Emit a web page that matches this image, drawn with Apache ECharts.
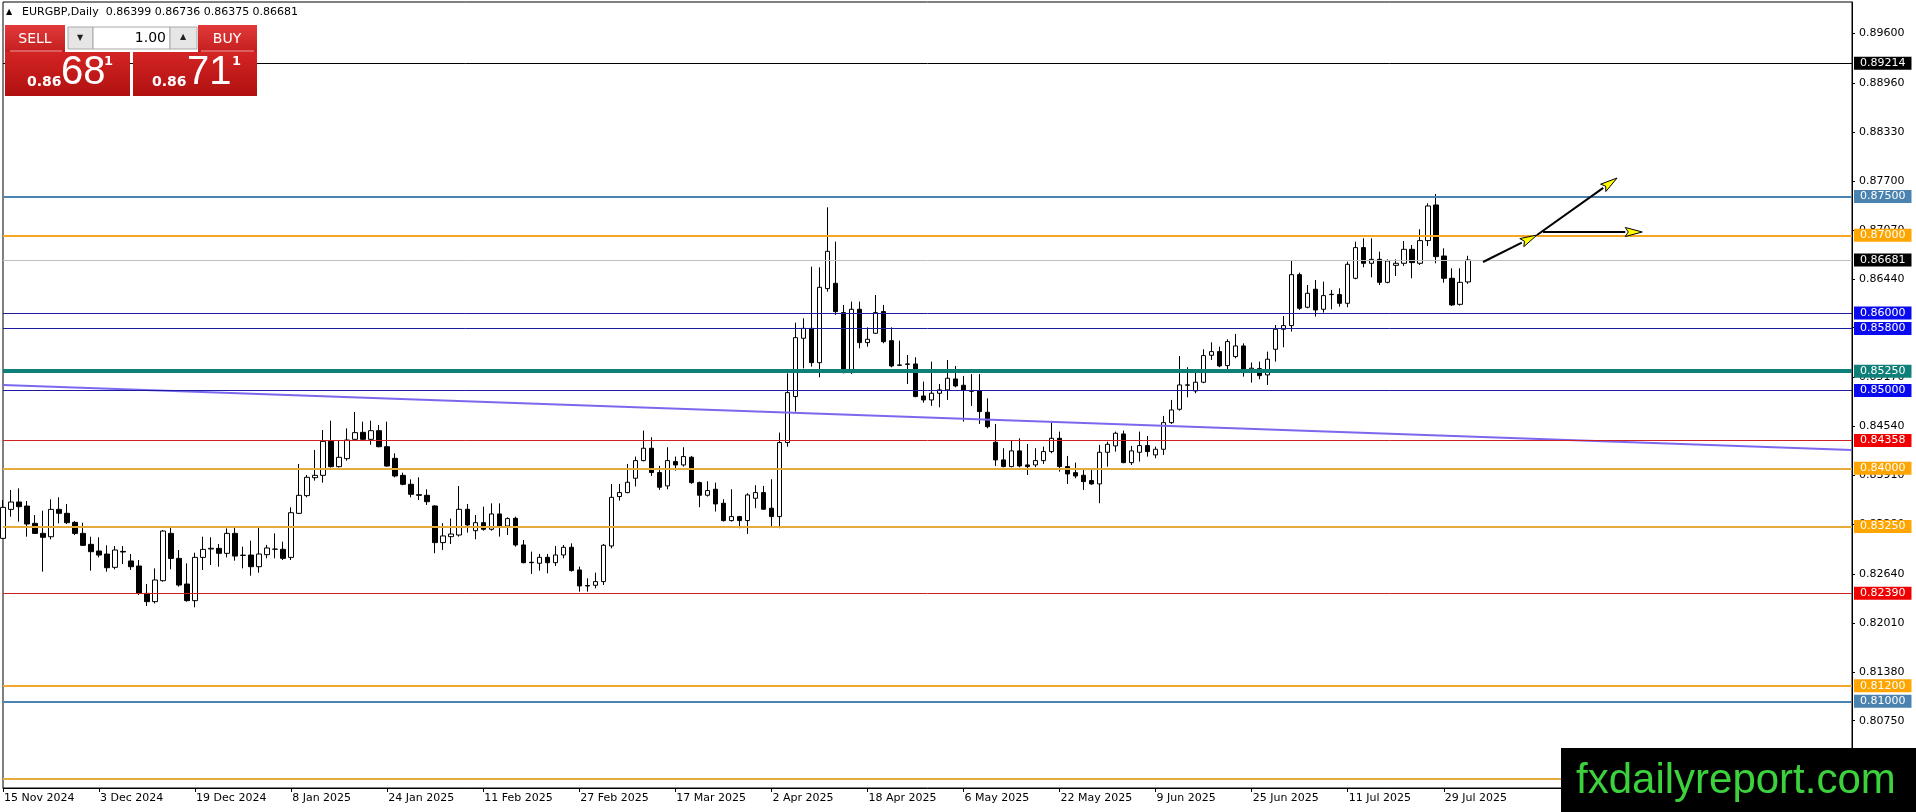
<!DOCTYPE html>
<html>
<head>
<meta charset="utf-8">
<title>EURGBP, Daily</title>
<script src="https://cdn.jsdelivr.net/npm/echarts@6.0.0/dist/echarts.min.js"></script>
<style>
  html, body { margin: 0; padding: 0; background: #fff; }
  #chart { width: 1916px; height: 812px; }
</style>
</head>
<body>
<div id="chart"></div>
<script>
// daily candles, 15 Nov 2024 .. 1 Aug 2025
var openP = [
  0.83098,0.83471,0.83566,0.83514,0.83291,0.83162,0.83119,0.83471,0.83420,0.83304,
  0.83162,0.83021,0.82935,0.82896,0.82725,0.82930,0.82807,0.82742,0.82390,0.82283,
  0.82553,0.83162,0.82840,0.82510,0.82296,0.82853,0.82961,0.82969,0.82905,0.83162,
  0.82878,0.82883,0.82733,0.82888,0.82957,0.82957,0.82853,0.83420,0.83648,0.83879,
  0.83909,0.84347,0.84021,0.84124,0.84373,0.84463,0.84373,0.84484,0.84278,0.84128,
  0.83909,0.83794,0.83660,0.83652,0.83515,0.83043,0.83120,0.83141,0.83472,0.83197,
  0.83300,0.83215,0.83412,0.83257,0.83356,0.83013,0.82790,0.82777,0.82854,0.82785,
  0.82884,0.82983,0.82691,0.82490,0.82494,0.82541,0.83000,0.83636,0.83687,0.83872,
  0.84099,0.84258,0.83945,0.83773,0.84086,0.84043,0.84142,0.83816,0.83653,0.83730,
  0.83550,0.83327,0.83378,0.83327,0.83614,0.83687,0.83486,0.83378,0.84331,0.84923,
  0.85674,0.85802,0.85360,0.86313,0.86381,0.86004,0.85232,0.86047,0.85618,0.85738,
  0.86017,0.85643,0.85330,0.85343,0.85343,0.84931,0.84880,0.84966,0.85009,0.85150,
  0.85069,0.84997,0.84996,0.84721,0.84335,0.84108,0.84022,0.84224,0.84043,0.84043,
  0.84099,0.84215,0.84386,0.84022,0.83944,0.83910,0.83842,0.83799,0.84206,0.84288,
  0.84442,0.84073,0.84206,0.84292,0.84172,0.84245,0.84588,0.84760,0.85070,0.84996,
  0.85108,0.85455,0.85502,0.85322,0.85438,0.85575,0.85258,0.85283,0.85202,0.85532,
  0.85790,0.85837,0.86493,0.86073,0.86305,0.86047,0.86236,0.86236,0.86124,0.86446,
  0.86841,0.86639,0.86690,0.86394,0.86613,0.86639,0.86819,0.86639,0.86931,0.87390,
  0.86733,0.86446,0.86111,0.86399
];
var highP = [
  0.83592,0.83720,0.83742,0.83579,0.83398,0.83454,0.83600,0.83626,0.83540,0.83320,
  0.83300,0.83119,0.83111,0.83008,0.82999,0.82999,0.82896,0.82819,0.82510,0.82712,
  0.83205,0.83248,0.82948,0.82776,0.82913,0.83119,0.83111,0.83025,0.83227,0.83248,
  0.82991,0.83068,0.83248,0.83013,0.83162,0.83055,0.83497,0.84055,0.83914,0.84236,
  0.84493,0.84613,0.84356,0.84514,0.84725,0.84600,0.84613,0.84557,0.84600,0.84193,
  0.83944,0.83858,0.83884,0.83729,0.83525,0.83292,0.83352,0.83772,0.83540,0.83399,
  0.83506,0.83549,0.83549,0.83369,0.83377,0.83077,0.82927,0.82897,0.82897,0.83000,
  0.83013,0.83034,0.82734,0.82584,0.82657,0.83026,0.83798,0.83799,0.84056,0.84151,
  0.84485,0.84400,0.84031,0.84271,0.84151,0.84271,0.84159,0.83829,0.83833,0.83816,
  0.83602,0.83730,0.83387,0.83679,0.83782,0.83773,0.83859,0.84459,0.85223,0.85875,
  0.85931,0.86596,0.86587,0.87360,0.86918,0.86103,0.86146,0.86146,0.85815,0.86231,
  0.86103,0.85815,0.85643,0.85459,0.85429,0.85116,0.85373,0.85085,0.85394,0.85317,
  0.85189,0.85214,0.85214,0.84901,0.84571,0.84258,0.84356,0.84386,0.84313,0.84258,
  0.84279,0.84588,0.84472,0.84159,0.84073,0.83979,0.83987,0.84301,0.84343,0.84472,
  0.84485,0.84288,0.84472,0.84416,0.84279,0.84674,0.84880,0.85446,0.85301,0.85232,
  0.85532,0.85622,0.85566,0.85661,0.85730,0.85609,0.85361,0.85373,0.85502,0.85845,
  0.85961,0.86682,0.86519,0.86360,0.86424,0.86403,0.86296,0.86317,0.86660,0.86918,
  0.86961,0.86961,0.86789,0.86690,0.86690,0.86926,0.86875,0.87077,0.87411,0.87531,
  0.86832,0.86575,0.86575,0.86736
];
var lowP = [
  0.83090,0.83377,0.83313,0.83119,0.83154,0.82669,0.83085,0.83291,0.83283,0.83141,
  0.82999,0.82682,0.82853,0.82669,0.82699,0.82768,0.82690,0.82369,0.82227,0.82261,
  0.82540,0.82699,0.82476,0.82283,0.82210,0.82690,0.82755,0.82733,0.82853,0.82810,
  0.82712,0.82617,0.82656,0.82841,0.82841,0.82819,0.82819,0.83412,0.83626,0.83841,
  0.83815,0.84010,0.84010,0.84098,0.84360,0.84356,0.84304,0.84270,0.84021,0.83884,
  0.83781,0.83626,0.83592,0.83528,0.82906,0.82949,0.83026,0.83120,0.83172,0.83086,
  0.83197,0.83197,0.83120,0.83141,0.82991,0.82777,0.82640,0.82683,0.82648,0.82743,
  0.82841,0.82670,0.82412,0.82412,0.82455,0.82498,0.82970,0.83584,0.83679,0.83765,
  0.84090,0.83902,0.83722,0.83730,0.83970,0.84022,0.83799,0.83499,0.83636,0.83443,
  0.83314,0.83314,0.83228,0.83155,0.83486,0.83464,0.83241,0.83228,0.84279,0.84730,
  0.85287,0.85309,0.85172,0.86274,0.85974,0.85223,0.85215,0.85545,0.85566,0.85729,
  0.85610,0.85300,0.85317,0.85085,0.84915,0.84845,0.84803,0.84785,0.84880,0.85043,
  0.84601,0.84803,0.84571,0.84515,0.84030,0.84013,0.84013,0.84013,0.83914,0.84015,
  0.84056,0.84193,0.83957,0.83799,0.83871,0.83721,0.83786,0.83550,0.84022,0.84215,
  0.84065,0.84043,0.84086,0.84150,0.84129,0.84172,0.84571,0.84742,0.84914,0.84966,
  0.85095,0.85395,0.85301,0.85258,0.85416,0.85180,0.85103,0.85146,0.85073,0.85373,
  0.85558,0.85760,0.86038,0.86060,0.85953,0.86004,0.86047,0.86081,0.86073,0.86433,
  0.86588,0.86459,0.86360,0.86382,0.86476,0.86605,0.86446,0.86618,0.86862,0.86639,
  0.86390,0.86090,0.86094,0.86375
];
var closeP = [
  0.83497,0.83566,0.83506,0.83283,0.83162,0.83111,0.83471,0.83420,0.83300,0.83162,
  0.83008,0.82926,0.82883,0.82720,0.82948,0.82922,0.82733,0.82390,0.82283,0.82562,
  0.83192,0.82840,0.82497,0.82296,0.82853,0.82956,0.82970,0.82905,0.83162,0.82870,
  0.82882,0.82733,0.82896,0.82974,0.82960,0.82841,0.83428,0.83652,0.83884,0.83909,
  0.84347,0.84021,0.84141,0.84364,0.84459,0.84373,0.84484,0.84278,0.84029,0.83901,
  0.83794,0.83665,0.83652,0.83570,0.83043,0.83129,0.83154,0.83472,0.83270,0.83300,
  0.83215,0.83412,0.83257,0.83352,0.83013,0.82785,0.82785,0.82854,0.82785,0.82884,
  0.82983,0.82683,0.82485,0.82485,0.82541,0.83009,0.83626,0.83687,0.83820,0.84099,
  0.84258,0.83945,0.83756,0.84099,0.84043,0.84151,0.83816,0.83653,0.83713,0.83541,
  0.83327,0.83378,0.83327,0.83657,0.83687,0.83473,0.83378,0.84331,0.84974,0.85682,
  0.85802,0.85360,0.86330,0.86793,0.86017,0.85232,0.86047,0.85618,0.85661,0.86004,
  0.85630,0.85317,0.85326,0.85339,0.84923,0.84880,0.84966,0.85009,0.85159,0.85060,
  0.85009,0.84993,0.84730,0.84536,0.84108,0.84022,0.84224,0.84030,0.84022,0.84099,
  0.84215,0.84386,0.84022,0.83927,0.83901,0.83829,0.83799,0.84206,0.84309,0.84451,
  0.84073,0.84224,0.84292,0.84215,0.84245,0.84588,0.84751,0.85073,0.85074,0.85108,
  0.85451,0.85502,0.85318,0.85631,0.85575,0.85258,0.85288,0.85193,0.85404,0.85790,
  0.85837,0.86493,0.86060,0.86253,0.86038,0.86223,0.86240,0.86124,0.86626,0.86841,
  0.86639,0.86690,0.86394,0.86669,0.86639,0.86819,0.86648,0.86931,0.87377,0.86725,
  0.86446,0.86103,0.86394,0.86681
];

// one label every 12 bars, starting with the first bar
var dateLabels = ['15 Nov 2024','3 Dec 2024','19 Dec 2024','8 Jan 2025','24 Jan 2025',
  '11 Feb 2025','27 Feb 2025','17 Mar 2025','2 Apr 2025','18 Apr 2025','6 May 2025',
  '22 May 2025','9 Jun 2025','25 Jun 2025','11 Jul 2025','29 Jul 2025'];
var labelStep = 12;
var totalSlots = 232;   // bars + empty space to the right

var yTicks = [0.89600,0.88960,0.88330,0.87700,0.87070,0.86440,0.85810,0.85170,
  0.84540,0.83910,0.83280,0.82640,0.82010,0.81380,0.80750];

// horizontal levels
var levelPrices = [0.89214,0.87500,0.87000,0.86681,0.86000,0.85800,0.85250,0.85000,
  0.84358,0.84000,0.83250,0.82390,0.81200,0.81000,0.80000];
var levelLine  = ['#000000','#4A82B0','#F5A623','#C0C0C0','#1C1CA0','#1C1CA0','#0F7F7A','#1C1CA0',
  '#D02020','#E3AC3C','#E3AC3C','#D02020','#F2A72E','#4A82B0','#E3AC3C'];
var levelWidth = [1,2,2,1,1,1,4,1,1,2,2,1,2,2,2];
var levelBox   = ['#000000','#4A82B0','#FFA500','#000000','#0A0AF0','#0A0AF0','#0F7F7A','#0A0AF0',
  '#F00000','#FFA500','#FFA500','#F00000','#FFA500','#4A82B0','#FFA500'];

// trend line and arrows, in [bar index, price]
var trendLine = [[0, 0.85071], [231, 0.84237]];
var arrows = [
  [184.9, 0.86656, 191.65, 0.87003],
  [191.65, 0.87003, 201.65, 0.87737],
  [192.4, 0.87042, 204.8, 0.87042]
];

var font = 'DejaVu Sans';

var candles = openP.map(function (o, i) {
  return [o, closeP[i], lowP[i], highP[i]];
});
var slots = [];
for (var i = 0; i < totalSlots; i++) slots.push(String(i));

var showLabel = function (idx) {
  return idx % labelStep === 0 && idx / labelStep < dateLabels.length;
};

var levelData = levelPrices.map(function (p, i) {
  return {
    yAxis: p,
    lineStyle: { color: levelLine[i], width: levelWidth[i], type: 'solid', opacity: 1 },
    label: {
      show: true, position: 'end', distance: 2,
      formatter: p.toFixed(5),
      color: '#fff', backgroundColor: levelBox[i],
      fontFamily: font, fontSize: 11, lineHeight: 12,
      padding: [1, 6, 0, 6]
    }
  };
});

var myChart = echarts.init(document.getElementById('chart'));

var option = {
  animation: false,
  backgroundColor: '#fff',
  grid: {
    left: 3, right: 64, top: 2, bottom: 24,
    show: true, borderColor: '#000', borderWidth: 1
  },
  xAxis: [{
    type: 'category',
    data: slots,
    boundaryGap: false,
    axisLine: { onZero: false, lineStyle: { color: '#000' } },
    axisTick: { show: true, length: 4, interval: showLabel, lineStyle: { color: '#000' } },
    axisLabel: {
      interval: showLabel,
      formatter: function (v, idx) { return dateLabels[idx / labelStep] || ''; },
      align: 'left', padding: [0, 0, 0, 1], margin: 5,
      color: '#000', fontFamily: font, fontSize: 11
    },
    splitLine: { show: false }
  }, {
    type: 'value', min: 0, max: totalSlots - 1, show: false,
    axisLine: { show: false, onZero: false }, axisTick: { show: false },
    axisLabel: { show: false }, splitLine: { show: false }
  }],
  yAxis: {
    type: 'value',
    position: 'right',
    min: 0.79884, max: 0.90003,
    axisLine: { show: true, onZero: false, lineStyle: { color: '#000' } },
    axisTick: { show: true, inside: false, length: 3, customValues: yTicks, lineStyle: { color: '#000' } },
    axisLabel: {
      customValues: yTicks,
      formatter: function (v) { return v.toFixed(5); },
      color: '#000', fontFamily: font, fontSize: 11, margin: 7
    },
    splitLine: { show: false }
  },
  series: [{
    type: 'candlestick',
    data: candles,
    barWidth: 5,
    itemStyle: {
      color: '#ffffff', color0: '#000000',
      borderColor: '#000000', borderColor0: '#000000', borderWidth: 1
    },
    markLine: {
      silent: true, symbol: ['none', 'none'], precision: 5,
      data: levelData
    }
  }, {
    type: 'line',
    xAxisIndex: 1,
    data: trendLine,
    symbol: 'none',
    lineStyle: { color: '#7B68EE', width: 2 },
    silent: true
  }, {
    type: 'custom',
    xAxisIndex: 1,
    data: arrows,
    encode: { x: [0, 2], y: [1, 3] },
    silent: true,
    z: 5,
    renderItem: function (params, api) {
      var p0 = api.coord([api.value(0), api.value(1)]);
      var p1 = api.coord([api.value(2), api.value(3)]);
      var dx = p1[0] - p0[0], dy = p1[1] - p0[1];
      var len = Math.sqrt(dx * dx + dy * dy);
      var ux = dx / len, uy = dy / len, nx = -uy, ny = ux;
      var hl = 17, hw = 4.5;
      var bx = p1[0] - ux * hl, by = p1[1] - uy * hl;
      return {
        type: 'group',
        children: [{
          type: 'line',
          shape: { x1: p0[0], y1: p0[1], x2: bx, y2: by },
          style: { stroke: '#000', lineWidth: 2 }
        }, {
          type: 'polygon',
          shape: { points: [[p1[0], p1[1]], [bx + nx * hw, by + ny * hw],
            [bx + ux * 3, by + uy * 3], [bx - nx * hw, by - ny * hw]] },
          style: { fill: '#FFFF00', stroke: '#000', lineWidth: 1 }
        }]
      };
    }
  }],
  graphic: [
    // header
    { type: 'text', z: 100, left: 6, top: 8, style: { text: '▲', fill: '#000', font: '8px ' + font } },
    { type: 'text', z: 100, left: 22, top: 7,
      style: { text: 'EURGBP,Daily  0.86399 0.86736 0.86375 0.86681', fill: '#000', font: '11px ' + font } },
    // trade panel
    { type: 'rect', z: 100, shape: { x: 65, y: 25, width: 133, height: 27 }, style: { fill: '#fff' } },
    { type: 'rect', z: 100, shape: { x: 5, y: 25, width: 60, height: 27 },
      style: { fill: new echarts.graphic.LinearGradient(0, 0, 0, 1, [{ offset: 0, color: '#E23A3A' }, { offset: 1, color: '#C41E1E' }]) } },
    { type: 'rect', z: 100, shape: { x: 198, y: 25, width: 59, height: 27 },
      style: { fill: new echarts.graphic.LinearGradient(0, 0, 0, 1, [{ offset: 0, color: '#E23A3A' }, { offset: 1, color: '#C41E1E' }]) } },
    { type: 'line', z: 101, shape: { x1: 10, y1: 51, x2: 62, y2: 51 }, style: { stroke: '#F4A0A0', lineWidth: 1 } },
    { type: 'line', z: 101, shape: { x1: 201, y1: 51, x2: 254, y2: 51 }, style: { stroke: '#F4A0A0', lineWidth: 1 } },
    { type: 'rect', z: 100, shape: { x: 68, y: 27, width: 25, height: 22 }, style: { fill: '#E6E6E6', stroke: '#A8A8A8' } },
    { type: 'rect', z: 100, shape: { x: 93, y: 27, width: 77, height: 22 }, style: { fill: '#fff', stroke: '#A8A8A8' } },
    { type: 'rect', z: 100, shape: { x: 170, y: 27, width: 27, height: 22 }, style: { fill: '#E6E6E6', stroke: '#A8A8A8' } },
    { type: 'text', z: 101, x: 80, y: 38, style: { text: '▼', fill: '#222', font: '8px ' + font, align: 'center', verticalAlign: 'middle' } },
    { type: 'text', z: 101, x: 183, y: 37, style: { text: '▲', fill: '#222', font: '8px ' + font, align: 'center', verticalAlign: 'middle' } },
    { type: 'text', z: 101, x: 166, y: 38, style: { text: '1.00', fill: '#000', font: '14px ' + font, align: 'right', verticalAlign: 'middle' } },
    { type: 'text', z: 101, x: 35, y: 39, style: { text: 'SELL', fill: '#fff', font: '14px ' + font, align: 'center', verticalAlign: 'middle' } },
    { type: 'text', z: 101, x: 227, y: 39, style: { text: 'BUY', fill: '#fff', font: '14px ' + font, align: 'center', verticalAlign: 'middle' } },
    { type: 'rect', z: 100, shape: { x: 5, y: 52, width: 125, height: 44 },
      style: { fill: new echarts.graphic.LinearGradient(0, 0, 0, 1, [{ offset: 0, color: '#D42424' }, { offset: 1, color: '#B01010' }]) } },
    { type: 'rect', z: 100, shape: { x: 133, y: 52, width: 124, height: 44 },
      style: { fill: new echarts.graphic.LinearGradient(0, 0, 0, 1, [{ offset: 0, color: '#D42424' }, { offset: 1, color: '#B01010' }]) } },
    { type: 'text', z: 101, x: 27, y: 82, style: { text: '0.86', fill: '#fff', font: 'bold 14px ' + font, verticalAlign: 'middle' } },
    { type: 'text', z: 101, x: 61, y: 73, style: { text: '68', fill: '#fff', font: '40px "Liberation Sans"', verticalAlign: 'middle' } },
    { type: 'text', z: 101, x: 104, y: 62, style: { text: '1', fill: '#fff', font: 'bold 13px ' + font, verticalAlign: 'middle' } },
    { type: 'text', z: 101, x: 152, y: 82, style: { text: '0.86', fill: '#fff', font: 'bold 14px ' + font, verticalAlign: 'middle' } },
    { type: 'text', z: 101, x: 187, y: 73, style: { text: '71', fill: '#fff', font: '40px "Liberation Sans"', verticalAlign: 'middle' } },
    { type: 'text', z: 101, x: 232, y: 62, style: { text: '1', fill: '#fff', font: 'bold 13px ' + font, verticalAlign: 'middle' } },
    // watermark
    { type: 'rect', z: 110, shape: { x: 1561, y: 748, width: 355, height: 64 }, style: { fill: '#000' } },
    { type: 'text', z: 111, x: 1576, y: 781,
      style: { text: 'fxdailyreport.com', fill: '#3CD23C', font: '42px "Liberation Sans"', verticalAlign: 'middle' } }
  ]
};

myChart.setOption(option);
</script>
</body>
</html>
